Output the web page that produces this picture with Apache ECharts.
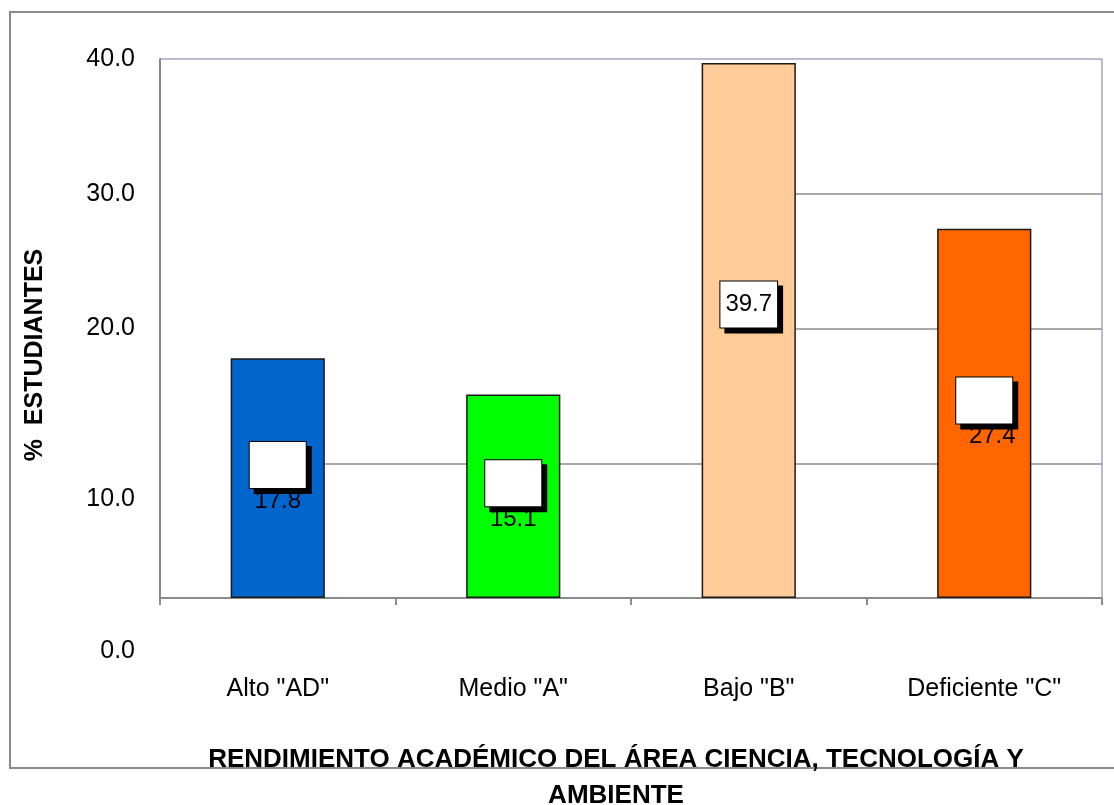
<!DOCTYPE html>
<html>
<head>
<meta charset="utf-8">
<script src="https://cdn.jsdelivr.net/npm/echarts@6/dist/echarts.min.js"></script>
<style>
html,body{margin:0;padding:0;background:#fff;}
#chart{width:1114px;height:805px;}
</style>
</head>
<body>
<div id="chart"></div>
<script>
const categories = ['Alto "AD"', 'Medio "A"', 'Bajo "B"', 'Deficiente "C"'];
const values = [17.8, 15.1, 39.7, 27.4];
const yTickValues = [0, 10, 20, 30, 40];
const barColors = ['#0066CC', '#00FF00', '#FFCC99', '#FF6600'];
const xTitle = 'RENDIMIENTO ACADÉMICO DEL ÁREA CIENCIA, TECNOLOGÍA Y\nAMBIENTE';
const yTitle = '%  ESTUDIANTES';

const FONT = '"Liberation Sans", Arial, sans-serif';

const boxStyle = {
  backgroundColor: '#fff', borderColor: '#000', borderWidth: 1,
  shadowColor: '#000', shadowBlur: 0, shadowOffsetX: 5, shadowOffsetY: 5
};

const barData = values.map((v, i) => {
  const item = { value: v, itemStyle: { color: barColors[i] } };
  if (i === 2) {
    item.label = { formatter: p => '{boxT|' + p.value.toFixed(1) + '}', offset: [0, -26] };
  } else if (i === 3) {
    item.label = { formatter: p => '{box|}\n{valR|' + p.value.toFixed(1) + '}' };
  }
  return item;
});

const chart = echarts.init(document.getElementById('chart'), null, { renderer: 'canvas' });
chart.setOption({
  animation: false,
  backgroundColor: '#fff',
  textStyle: { fontFamily: FONT },
  grid: { left: 160, right: 12, top: 59, bottom: 207, show: true, borderColor: '#7676ac', borderWidth: 1 },
  xAxis: [{
    type: 'category',
    data: categories,
    axisLine: { lineStyle: { color: '#8a8a8a', width: 2 } },
    axisTick: { show: true, length: 7, lineStyle: { color: '#8a8a8a', width: 2 } },
    axisLabel: { fontSize: 25, color: '#000', margin: 79, fontFamily: FONT },
    splitLine: { show: false }
  }, {
    type: 'value', min: 0, max: 4, show: false, splitLine: { show: false }
  }],
  yAxis: {
    type: 'value', min: 0, max: 40, interval: 10,
    splitLine: { show: false },
    axisLine: { show: true, lineStyle: { color: '#8a8a8a', width: 2 } },
    axisTick: { show: false },
    axisLabel: {
      margin: 25, fontFamily: FONT,
      formatter: v => {
        if (yTickValues.indexOf(v) < 0) return '';
        const t = v.toFixed(1);
        if (v === 10) return '{sp10| }\n{n|' + t + '}';
        if (v === 0) return '{sp0| }\n{n|' + t + '}';
        return '{n|' + t + '}';
      },
      rich: {
        n: { fontSize: 25, color: '#000', lineHeight: 26, fontFamily: FONT },
        sp10: { fontSize: 10, lineHeight: 72 },
        sp0: { fontSize: 10, lineHeight: 106 }
      }
    }
  },
  series: [{
    type: 'bar',
    data: barData,
    barWidth: '40%',
    z: 3,
    itemStyle: { borderColor: '#1a1a1a', borderWidth: 1.5 },
    label: {
      show: true,
      position: 'inside',
      formatter: p => '{box|}\n{val|' + p.value.toFixed(1) + '}',
      rich: {
        box: Object.assign({ width: 56, height: 46 }, boxStyle),
        val: { fontSize: 24, lineHeight: 26, color: '#000', fontFamily: FONT },
        valR: { fontSize: 24, lineHeight: 26, color: '#000', fontFamily: FONT, padding: [0, 0, 0, 16] },
        boxT: Object.assign({ fontSize: 24, lineHeight: 24, color: '#000', fontFamily: FONT, padding: [11, 5, 11, 5] }, boxStyle)
      }
    }
  }, {
    type: 'line',
    xAxisIndex: 1,
    data: [],
    z: 1,
    silent: true,
    markLine: {
      silent: true,
      z: 1,
      symbol: ['none', 'none'],
      label: { show: false },
      lineStyle: { color: '#8c8c8c', width: 1.5, type: 'solid' },
      emphasis: { disabled: true },
      data: [
        [{ coord: [2.7, 30] }, { coord: [4, 30] }],
        [{ coord: [2.7, 20] }, { coord: [4, 20] }],
        [{ coord: [0.7, 10] }, { coord: [4, 10] }]
      ]
    }
  }],
  graphic: [{
    type: 'rect', silent: true, z: -10,
    shape: { x: 10, y: 12, width: 1120, height: 756 },
    style: { fill: 'transparent', stroke: '#8a8a8a', lineWidth: 2 }
  }, {
    type: 'text', silent: true,
    x: 616, y: 742,
    style: { text: xTitle, fontSize: 26, fontWeight: 'bold', fontFamily: FONT, fill: '#000', align: 'center', verticalAlign: 'top', lineHeight: 36 }
  }, {
    type: 'text', silent: true,
    x: 35, y: 355, rotation: Math.PI / 2,
    style: { text: yTitle, fontSize: 25, fontWeight: 'bold', fontFamily: FONT, fill: '#000', align: 'center', verticalAlign: 'middle' }
  }]
});
</script>
</body>
</html>
